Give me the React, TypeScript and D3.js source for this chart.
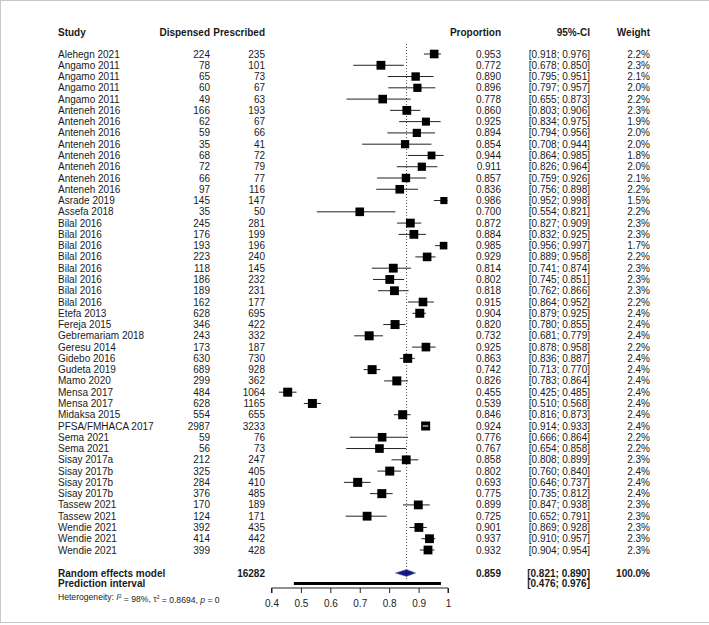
import * as d3 from "d3";
import { useEffect, useRef } from "react";

const STUDIES = [
  "Alehegn 2021", "Angamo 2011", "Angamo 2011", "Angamo 2011", "Angamo 2011",
  "Anteneh 2016", "Anteneh 2016", "Anteneh 2016", "Anteneh 2016", "Anteneh 2016",
  "Anteneh 2016", "Anteneh 2016", "Anteneh 2016", "Asrade 2019", "Assefa 2018",
  "Bilal 2016", "Bilal 2016", "Bilal 2016", "Bilal 2016", "Bilal 2016",
  "Bilal 2016", "Bilal 2016", "Bilal 2016", "Etefa 2013", "Fereja 2015",
  "Gebremariam 2018", "Geresu 2014", "Gidebo 2016", "Gudeta 2019", "Mamo 2020",
  "Mensa 2017", "Mensa 2017", "Midaksa 2015", "PFSA/FMHACA 2017", "Sema 2021",
  "Sema 2021", "Sisay 2017a", "Sisay 2017b", "Sisay 2017b", "Sisay 2017b",
  "Tassew 2021", "Tassew 2021", "Wendie 2021", "Wendie 2021", "Wendie 2021",
];
const DISPENSED = [
  224, 78, 65, 60, 49, 166, 62, 59, 35, 68, 72, 66, 97, 145, 35, 245, 176, 193, 223, 118,
  186, 189, 162, 628, 346, 243, 173, 630, 689, 299, 484, 628, 554, 2987, 59, 56, 212, 325,
  284, 376, 170, 124, 392, 414, 399,
];
const PRESCRIBED = [
  235, 101, 73, 67, 63, 193, 67, 66, 41, 72, 79, 77, 116, 147, 50, 281, 199, 196, 240, 145,
  232, 231, 177, 695, 422, 332, 187, 730, 928, 362, 1064, 1165, 655, 3233, 76, 73, 247, 405,
  410, 485, 189, 171, 435, 442, 428,
];
const PROPORTION = [
  0.953, 0.772, 0.89, 0.896, 0.778, 0.86, 0.925, 0.894, 0.854, 0.944, 0.911, 0.857, 0.836,
  0.986, 0.7, 0.872, 0.884, 0.985, 0.929, 0.814, 0.802, 0.818, 0.915, 0.904, 0.82, 0.732,
  0.925, 0.863, 0.742, 0.826, 0.455, 0.539, 0.846, 0.924, 0.776, 0.767, 0.858, 0.802, 0.693,
  0.775, 0.899, 0.725, 0.901, 0.937, 0.932,
];
const CI_LOW = [
  0.918, 0.678, 0.795, 0.797, 0.655, 0.803, 0.834, 0.794, 0.708, 0.864, 0.826, 0.759, 0.756,
  0.952, 0.554, 0.827, 0.832, 0.956, 0.889, 0.741, 0.745, 0.762, 0.864, 0.879, 0.78, 0.681,
  0.878, 0.836, 0.713, 0.783, 0.425, 0.51, 0.816, 0.914, 0.666, 0.654, 0.808, 0.76, 0.646,
  0.735, 0.847, 0.652, 0.869, 0.91, 0.904,
];
const CI_HIGH = [
  0.976, 0.85, 0.951, 0.957, 0.873, 0.906, 0.975, 0.956, 0.944, 0.985, 0.964, 0.926, 0.898,
  0.998, 0.821, 0.909, 0.925, 0.997, 0.958, 0.874, 0.851, 0.866, 0.952, 0.925, 0.855, 0.779,
  0.958, 0.887, 0.77, 0.864, 0.485, 0.568, 0.873, 0.933, 0.864, 0.858, 0.899, 0.84, 0.737,
  0.812, 0.938, 0.791, 0.928, 0.957, 0.954,
];
const WEIGHT = [
  2.2, 2.3, 2.1, 2.0, 2.2, 2.3, 1.9, 2.0, 2.0, 1.8, 2.0, 2.1, 2.2, 1.5, 2.2, 2.3, 2.3, 1.7,
  2.2, 2.3, 2.3, 2.3, 2.2, 2.4, 2.4, 2.4, 2.2, 2.4, 2.4, 2.4, 2.4, 2.4, 2.4, 2.4, 2.2, 2.2,
  2.3, 2.4, 2.4, 2.4, 2.3, 2.3, 2.3, 2.3, 2.3,
];
const TOTAL_PRESCRIBED = 16282;
const POOLED = { est: 0.859, low: 0.821, high: 0.89 };
const PREDICTION = { low: 0.476, high: 0.976 };
const TICKS = [0.4, 0.5, 0.6, 0.7, 0.8, 0.9, 1];

const W = 709;
const H = 625;
const FONT = "'Liberation Sans', Arial, sans-serif";

const col = { study: 58, disp: 210, presc: 265, prop: 501, ci: 590, weight: 650 };

const fmt3 = d3.format(".3f");
const ciText = (lo: number, hi: number) => `[${fmt3(lo)}; ${fmt3(hi)}]`;

const drawPlot = (svgElement: SVGSVGElement) => {
  const svg = d3.select(svgElement);
  svg.selectAll("*").remove();
  svg.attr("width", W).attr("height", H).style("font-family", FONT);

  svg.append("rect").attr("width", W).attr("height", H).attr("fill", "white");
  svg
    .append("rect")
    .attr("x", 0.5)
    .attr("y", 0.5)
    .attr("width", W + 2)
    .attr("height", H - 3)
    .attr("fill", "none")
    .attr("stroke", "#c8c8c8");

  const xScale = d3.scaleLinear().domain([0.4, 1]).range([271.5, 448]);
  const yScale = d3
    .scalePoint<number>()
    .domain(d3.range(STUDIES.length))
    .range([54, 550]);

  const text = (x: number, y: number, s: string, anchor = "start", bold = false) =>
    svg
      .append("text")
      .attr("x", x)
      .attr("y", y)
      .attr("dy", "0.35em")
      .attr("text-anchor", anchor)
      .style("font-size", "10px")
      .style("font-weight", bold ? "bold" : "normal")
      .attr("fill", "#1a1a1a")
      .text(s);

  // header
  const headerY = 32;
  text(col.study, headerY, "Study", "start", true);
  text(col.disp, headerY, "Dispensed", "end", true);
  text(col.presc, headerY, "Prescribed", "end", true);
  text(col.prop, headerY, "Proportion", "end", true);
  text(col.ci, headerY, "95%-CI", "end", true);
  text(col.weight, headerY, "Weight", "end", true);

  // reference line at pooled estimate
  svg
    .append("line")
    .attr("x1", xScale(POOLED.est))
    .attr("x2", xScale(POOLED.est))
    .attr("y1", 44)
    .attr("y2", 580)
    .attr("stroke", "#555")
    .attr("stroke-dasharray", "1,2");

  STUDIES.forEach((name, i) => {
    const y = yScale(i) ?? 0;
    text(col.study, y, name);
    text(col.disp, y, String(DISPENSED[i]), "end");
    text(col.presc, y, String(PRESCRIBED[i]), "end");
    text(col.prop, y, fmt3(PROPORTION[i]), "end");
    text(col.ci, y, ciText(CI_LOW[i], CI_HIGH[i]), "end");
    text(col.weight, y, `${WEIGHT[i].toFixed(1)}%`, "end");

    const x0 = xScale(CI_LOW[i]);
    const x1 = xScale(CI_HIGH[i]);
    const cx = xScale(PROPORTION[i]);
    const side = 9 * Math.sqrt(WEIGHT[i] / 2.4);

    svg
      .append("line")
      .attr("x1", x0)
      .attr("x2", x1)
      .attr("y1", y)
      .attr("y2", y)
      .attr("stroke", "#222")
      .attr("stroke-width", 1);

    svg
      .append("rect")
      .attr("x", cx - side / 2)
      .attr("y", y - side / 2)
      .attr("width", side)
      .attr("height", side)
      .attr("fill", "black");

    // CI inside the square drawn in white
    if (x0 > cx - side / 2 && x1 < cx + side / 2) {
      svg
        .append("line")
        .attr("x1", x0)
        .attr("x2", x1)
        .attr("y1", y)
        .attr("y2", y)
        .attr("stroke", "white")
        .attr("stroke-width", 1);
    }
  });

  // pooled estimate
  const poolY = 573;
  text(col.study, poolY, "Random effects model", "start", true);
  text(col.presc, poolY, String(TOTAL_PRESCRIBED), "end", true);
  text(col.prop, poolY, fmt3(POOLED.est), "end", true);
  text(col.ci, poolY, ciText(POOLED.low, POOLED.high), "end", true);
  text(col.weight, poolY, "100.0%", "end", true);

  const dh = 3.5;
  svg
    .append("path")
    .attr(
      "d",
      `M${xScale(POOLED.low)},${poolY} L${xScale(POOLED.est)},${poolY - dh} L${xScale(POOLED.high)},${poolY} L${xScale(POOLED.est)},${poolY + dh} Z`
    )
    .attr("fill", "#10188a")
    .attr("stroke", "#6d7590")
    .attr("stroke-width", 0.6);

  const predY = 583.5;
  text(col.study, predY, "Prediction interval", "start", true);
  text(col.ci, predY, ciText(PREDICTION.low, PREDICTION.high), "end", true);
  svg
    .append("rect")
    .attr("x", xScale(PREDICTION.low))
    .attr("y", predY - 1.5)
    .attr("width", xScale(PREDICTION.high) - xScale(PREDICTION.low))
    .attr("height", 3)
    .attr("fill", "black");

  // heterogeneity
  const het = svg
    .append("text")
    .attr("x", col.study)
    .attr("y", 597)
    .attr("dy", "0.35em")
    .style("font-size", "8.6px")
    .attr("fill", "#222");
  het.append("tspan").text("Heterogeneity: ");
  het.append("tspan").style("font-style", "italic").text("I");
  het.append("tspan").attr("dy", "-0.45em").style("font-size", "5px").text("2");
  het.append("tspan").attr("dy", "0.45em").text(" = 98%, \u03c4");
  het.append("tspan").attr("dy", "-0.45em").style("font-size", "5px").text("2");
  het.append("tspan").attr("dy", "0.45em").text(" = 0.8694, ");
  het.append("tspan").style("font-style", "italic").text("p");
  het.append("tspan").text(" = 0");

  // axis
  const axisY = 588;
  const axis = svg
    .append("g")
    .attr("transform", `translate(0,${axisY})`)
    .call(
      d3
        .axisBottom(xScale)
        .tickValues(TICKS)
        .tickSize(5)
        .tickPadding(7)
        .tickFormat((d) => String(+d))
    );
  axis.select(".domain").attr("d", `M${xScale(0.4)},5V0H${xScale(1)}V5`).attr("stroke", "#222");
  axis.selectAll(".tick line").attr("stroke", "#222");
  axis
    .selectAll(".tick text")
    .style("font-size", "10px")
    .style("font-family", FONT)
    .attr("fill", "#222");
};

const App = () => {
  const svgRef = useRef<SVGSVGElement | null>(null);

  useEffect(() => {
    if (svgRef.current) drawPlot(svgRef.current);
  }, []);

  return (
    <div style={{ position: "fixed", left: 0, top: 0, width: W, height: H, background: "white" }}>
      <svg ref={svgRef} style={{ display: "block" }} />
    </div>
  );
};

export default App;
